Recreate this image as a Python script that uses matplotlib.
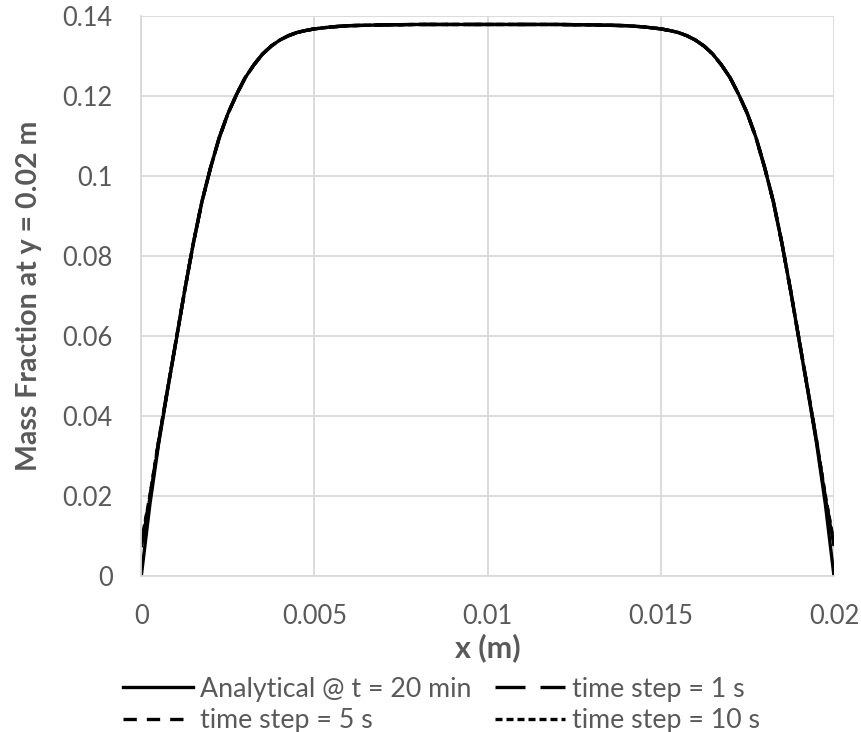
import matplotlib
matplotlib.use("Agg")
import matplotlib.pyplot as plt

plt.rcParams['font.family'] = ['Lato', 'DejaVu Sans']

# x positions (m) of the profile across the channel
x = [0, 0.00025, 0.0005, 0.00075, 0.001, 0.00125, 0.0015, 0.00175, 0.002, 0.00225,
     0.0025, 0.00275, 0.003, 0.00325, 0.0035, 0.00375, 0.004, 0.00425, 0.0045, 0.00475,
     0.005, 0.0055, 0.006, 0.007, 0.008, 0.009, 0.010, 0.011, 0.012, 0.013,
     0.014, 0.0145, 0.015, 0.01525, 0.0155, 0.01575, 0.016, 0.01625, 0.0165, 0.01675,
     0.017, 0.01725, 0.0175, 0.01775, 0.018, 0.01825, 0.0185, 0.01875, 0.019, 0.01925,
     0.0195, 0.01975, 0.02]

# analytical mass fraction at t = 20 min
analytical = [0, 0.018, 0.033, 0.046, 0.0585, 0.0712, 0.083, 0.0935, 0.102, 0.1095,
              0.1155, 0.1203, 0.1245, 0.1277, 0.1304, 0.1324, 0.1339, 0.135, 0.1358, 0.1363,
              0.1367, 0.1372, 0.1375, 0.1377, 0.1378, 0.1378, 0.1378, 0.1378, 0.1378, 0.1377,
              0.1375, 0.1372, 0.1367, 0.1363, 0.1358, 0.135, 0.1339, 0.1324, 0.1304, 0.1277,
              0.1245, 0.1203, 0.1155, 0.1095, 0.102, 0.0935, 0.083, 0.0712, 0.0585, 0.046,
              0.033, 0.018, 0]

# simulated profiles for each time step
dt1 = [0.0072, 0.0195, 0.0335, 0.0462, 0.0586, 0.0712, 0.083, 0.0935, 0.102, 0.1095,
       0.1155, 0.1203, 0.1245, 0.1277, 0.1304, 0.1324, 0.1339, 0.135, 0.1358, 0.1363,
       0.1367, 0.1372, 0.1375, 0.1377, 0.1378, 0.1378, 0.1378, 0.1378, 0.1378, 0.1377,
       0.1375, 0.1372, 0.1367, 0.1363, 0.1358, 0.135, 0.1339, 0.1324, 0.1304, 0.1277,
       0.1245, 0.1203, 0.1155, 0.1095, 0.102, 0.0935, 0.083, 0.0712, 0.0586, 0.0462,
       0.0335, 0.0195, 0.0075]
dt5 = [0.0078, 0.0198, 0.0336, 0.0462, 0.0586, 0.0712, 0.083, 0.0935, 0.102, 0.1095,
       0.1155, 0.1203, 0.1245, 0.1277, 0.1304, 0.1324, 0.1339, 0.135, 0.1358, 0.1363,
       0.1367, 0.1372, 0.1375, 0.1377, 0.1378, 0.1378, 0.1378, 0.1378, 0.1378, 0.1377,
       0.1375, 0.1372, 0.1367, 0.1363, 0.1358, 0.135, 0.1339, 0.1324, 0.1304, 0.1277,
       0.1245, 0.1203, 0.1155, 0.1095, 0.102, 0.0935, 0.083, 0.0712, 0.0586, 0.0462,
       0.0336, 0.0198, 0.0078]
dt10 = [0.0084, 0.0201, 0.0337, 0.0463, 0.0587, 0.0712, 0.083, 0.0935, 0.102, 0.1095,
        0.1155, 0.1203, 0.1245, 0.1277, 0.1304, 0.1324, 0.1339, 0.135, 0.1358, 0.1363,
        0.1367, 0.1372, 0.1375, 0.1377, 0.1378, 0.1378, 0.1378, 0.1378, 0.1378, 0.1377,
        0.1375, 0.1372, 0.1367, 0.1363, 0.1358, 0.135, 0.1339, 0.1324, 0.1304, 0.1277,
        0.1245, 0.1203, 0.1155, 0.1095, 0.102, 0.0935, 0.083, 0.0712, 0.0587, 0.0463,
        0.0337, 0.0201, 0.0082]

xticks = [0, 0.005, 0.01, 0.015, 0.02]
xticklabels = ['0', '0.005', '0.01', '0.015', '0.02']
yticks = [0, 0.02, 0.04, 0.06, 0.08, 0.1, 0.12, 0.14]
yticklabels = ['0', '0.02', '0.04', '0.06', '0.08', '0.1', '0.12', '0.14']

grey = '#595959'
grid = '#d9d9d9'
fs_tick = 18.4
fs_leg = 19.3
lw = 2.4

fig = plt.figure(figsize=(8.62, 7.32), dpi=100)
ax = fig.add_axes([0.1639, 0.2131, 0.8036, 0.7655])

l_an, = ax.plot(x, analytical, color='black', lw=lw, label='Analytical @ t = 20 min')
l_1, = ax.plot(x, dt1, color='black', lw=lw, dashes=(9, 4.5), label='time step = 1 s')
l_5, = ax.plot(x, dt5, color='black', lw=lw, dashes=(4, 3), label='time step = 5 s')
l_10, = ax.plot(x, dt10, color='black', lw=lw, dashes=(2.1, 1.2), label='time step = 10 s')

ax.set_xlim(0, 0.02)
ax.set_ylim(0, 0.14)
ax.set_xticks(xticks)
ax.set_xticklabels(xticklabels)
ax.set_yticks(yticks)
ax.set_yticklabels(yticklabels)
ax.tick_params(axis='both', length=0, labelsize=fs_tick, labelcolor=grey)
ax.tick_params(axis='x', pad=19.8)
ax.tick_params(axis='y', pad=20.5)
ax.grid(True, color=grid, lw=1.3)
ax.set_axisbelow(True)
for s in ['top', 'right']:
    ax.spines[s].set_visible(False)
for s in ['left', 'bottom']:
    ax.spines[s].set_color(grid)
    ax.spines[s].set_linewidth(1.3)

ax.set_xlabel('x (m)', fontsize=22, fontweight='bold', color=grey, labelpad=3.7)
ax.set_ylabel('Mass Fraction at y = 0.02 m', fontsize=20.5, fontweight='bold',
              color=grey, labelpad=14.7)

# legend rows: analytical | 1 s, then 5 s | 10 s
handles = [l_an, l_5, l_1, l_10]
fig.legend(handles, [h.get_label() for h in handles], loc='upper center',
           bbox_to_anchor=(0.5122, 0.0755), ncol=2, frameon=False, borderaxespad=0,
           borderpad=0, fontsize=fs_leg, labelcolor=grey, handlelength=2.61,
           handletextpad=0.26, columnspacing=0.86, labelspacing=0.25)

fig.savefig('out.png', dpi=100)
